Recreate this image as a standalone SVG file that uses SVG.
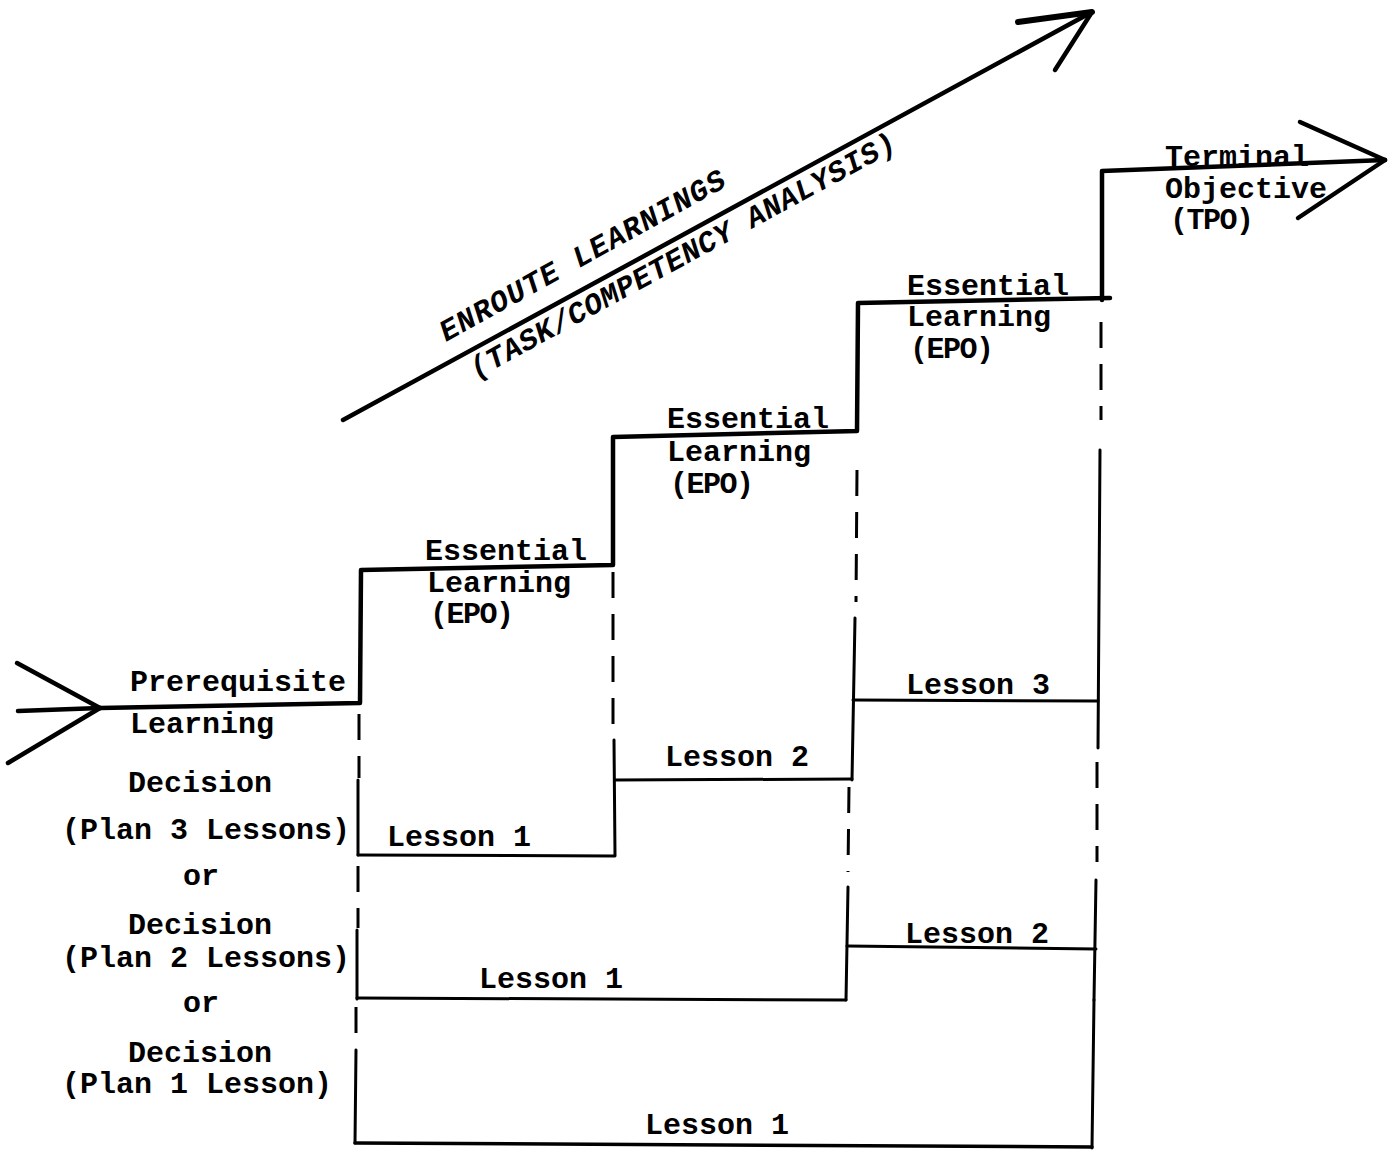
<svg xmlns="http://www.w3.org/2000/svg" width="1394" height="1153" viewBox="0 0 1394 1153">
<style>
.t{font-family:"Liberation Mono","Courier New",monospace;font-size:30px;font-weight:bold;fill:#000}
.it{font-style:italic}
.ab{letter-spacing:-1.5px}
.step{stroke:#000;stroke-width:4.5;fill:none;stroke-linecap:round;stroke-linejoin:round}
.les{stroke:#000;stroke-width:3;fill:none;stroke-linecap:round}
.dash{stroke:#000;stroke-width:3;fill:none;stroke-dasharray:26 16}
</style>
<rect width="1394" height="1153" fill="#fff"/>
<g id="connectors">
  <polyline class="step" points="18,711 100,708 360,703 361,570 613,565 613,437 857,431 858,303 1110,298"/>
  <polyline class="step" points="1102,300 1102,171 1385,160"/>
  <line class="step" x1="17" y1="663" x2="100" y2="708"/>
  <line class="step" x1="8" y1="763" x2="100" y2="708"/>
  <line class="step" x1="1300" y1="122" x2="1385" y2="160"/>
  <line class="step" x1="1298" y1="218" x2="1385" y2="160"/>
  <line class="step" x1="343" y1="420" x2="1092" y2="12"/>
  <line class="step" x1="1018" y1="22" x2="1092" y2="12" style="stroke-width:6"/>
  <line class="step" x1="1092" y1="12" x2="1055" y2="70"/>
  <line class="dash" x1="359" y1="714" x2="359" y2="778"/>
  <line class="les" x1="358" y1="780" x2="358" y2="855"/>
  <line class="dash" x1="358" y1="866" x2="358" y2="928"/>
  <line class="les" x1="357" y1="930" x2="357" y2="999"/>
  <line class="dash" x1="356" y1="1007" x2="356" y2="1048"/>
  <line class="les" x1="356" y1="1050" x2="355" y2="1143"/>
  <line class="dash" x1="613" y1="572" x2="613" y2="735"/>
  <line class="les" x1="614" y1="740" x2="615" y2="855"/>
  <line class="dash" x1="857" y1="470" x2="856" y2="602"/>
  <line class="les" x1="855" y1="618" x2="852" y2="780"/>
  <line class="dash" x1="849" y1="787" x2="848" y2="872"/>
  <line class="les" x1="848" y1="887" x2="846" y2="1000"/>
  <line class="dash" x1="1101" y1="322" x2="1101" y2="420"/>
  <line class="les" x1="1100" y1="450" x2="1098" y2="748"/>
  <line class="dash" x1="1097" y1="762" x2="1097" y2="862"/>
  <line class="les" x1="1096" y1="880" x2="1094" y2="1000"/>
  <line class="les" x1="1094" y1="1000" x2="1092" y2="1148"/>
  <line class="les" x1="358" y1="855" x2="615" y2="856"/>
  <line class="les" x1="615" y1="780" x2="852" y2="779"/>
  <line class="les" x1="853" y1="700" x2="1098" y2="701"/>
  <line class="les" x1="357" y1="998" x2="846" y2="1000"/>
  <line class="les" x1="847" y1="946" x2="1096" y2="949"/>
  <line class="les" x1="355" y1="1143" x2="1092" y2="1147" style="stroke-width:3.5"/>
</g>
<g id="enroute">
  <text class="t it" style="letter-spacing:1px" transform="translate(446,342) rotate(-29)">ENROUTE LEARNINGS</text>
  <text class="t it" style="letter-spacing:0.5px" transform="translate(476,379) rotate(-28.6)">(TASK/COMPETENCY ANALYSIS)</text>
</g>
<g id="prereq">
  <text class="t" x="130" y="691">Prerequisite</text>
  <text class="t" x="130" y="733">Learning</text>
</g>
<g id="decision3">
  <text class="t" x="128" y="792">Decision</text>
  <text class="t" x="62" y="839">(Plan 3 Lessons)</text>
  <text class="t" x="183" y="885">or</text>
</g>
<g id="decision2">
  <text class="t" x="128" y="934">Decision</text>
  <text class="t" x="62" y="967">(Plan 2 Lessons)</text>
  <text class="t" x="183" y="1012">or</text>
</g>
<g id="decision1">
  <text class="t" x="128" y="1062">Decision</text>
  <text class="t" x="62" y="1093">(Plan 1 Lesson)</text>
</g>
<g id="epo1">
  <text class="t" x="425" y="560">Essential</text>
  <text class="t" x="427" y="592">Learning</text>
  <text class="t ab" x="430" y="623">(EPO)</text>
</g>
<g id="epo2">
  <text class="t" x="667" y="428">Essential</text>
  <text class="t" x="667" y="461">Learning</text>
  <text class="t ab" x="670" y="493">(EPO)</text>
</g>
<g id="epo3">
  <text class="t" x="907" y="295">Essential</text>
  <text class="t" x="907" y="326">Learning</text>
  <text class="t ab" x="910" y="358">(EPO)</text>
</g>
<g id="tpo">
  <text class="t" x="1165" y="166">Terminal</text>
  <text class="t" x="1165" y="198">Objective</text>
  <text class="t ab" x="1170" y="229">(TPO)</text>
</g>
<g id="lessons">
  <text class="t" x="387" y="846">Lesson 1</text>
  <text class="t" x="665" y="766">Lesson 2</text>
  <text class="t" x="906" y="694">Lesson 3</text>
  <text class="t" x="479" y="988">Lesson 1</text>
  <text class="t" x="905" y="943">Lesson 2</text>
  <text class="t" x="645" y="1134">Lesson 1</text>
</g>
</svg>
